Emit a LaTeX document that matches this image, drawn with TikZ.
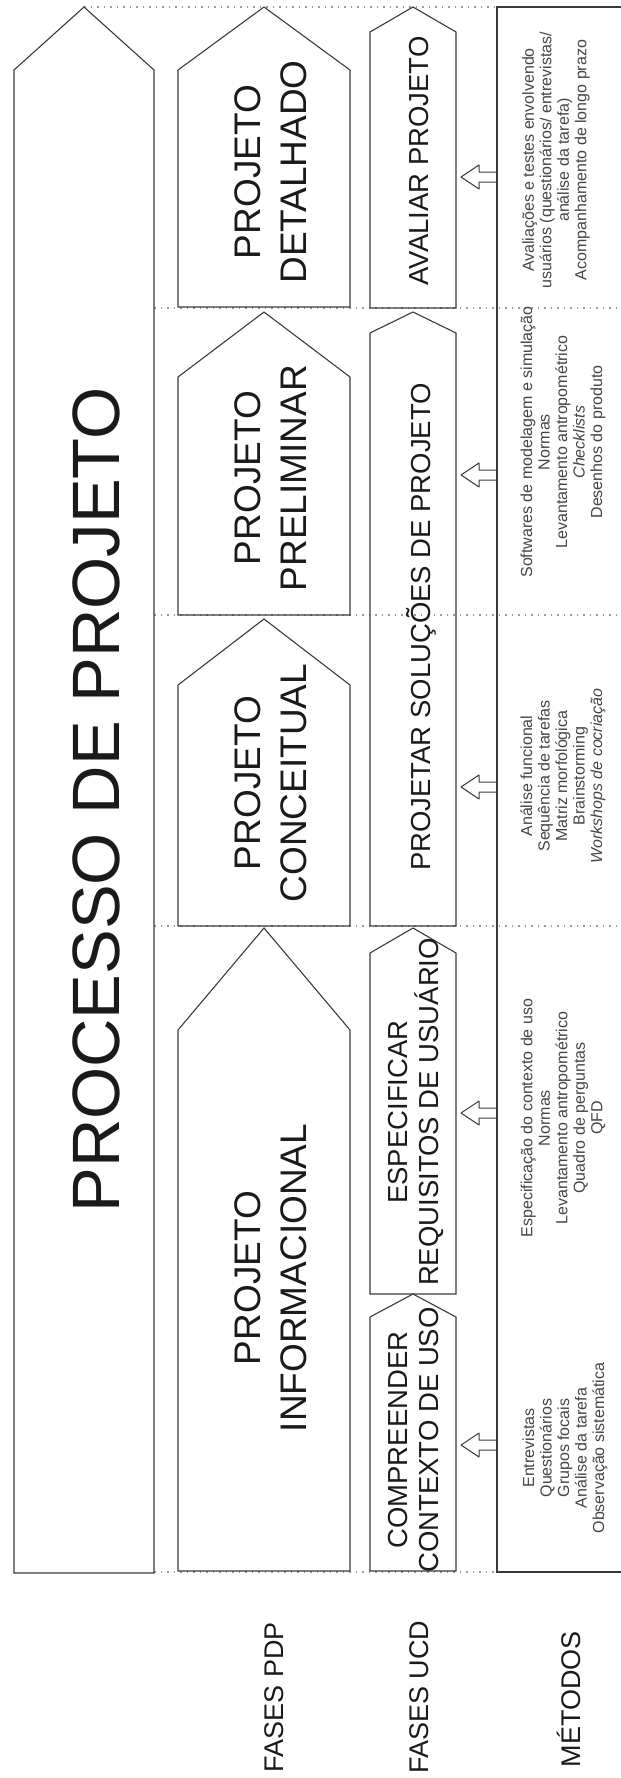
\documentclass[tikz,border=0pt]{standalone}
\usepackage{fontspec}
\setmainfont{Liberation Sans}
\usetikzlibrary{calc}
\definecolor{linec}{HTML}{3A3A3A}
\definecolor{dotc}{HTML}{9A9A9A}
\definecolor{textc}{HTML}{1A1A1A}
\definecolor{metc}{HTML}{444444}
\tikzset{
  boxl/.style={draw=linec,line width=1.1pt,line join=miter},
  sep/.style={dotc,line width=1.3pt,dash pattern=on 1.5pt off 5pt},
  bigtxt/.style={rotate=90,inner sep=0pt,textc,font=\fontsize{67}{80}\selectfont},
  pdptxt/.style={rotate=90,inner sep=0pt,align=center,textc,font=\fontsize{37}{46}\selectfont},
  ucdtxt/.style={rotate=90,inner sep=0pt,align=center,textc,font=\fontsize{27.5}{31}\selectfont},
  mettxt/.style={rotate=90,inner sep=0pt,align=center,metc,font=\fontsize{16}{17.5}\selectfont},
  labtxt/.style={rotate=90,inner sep=0pt,anchor=base,textc,font=\fontsize{27}{32}\selectfont},
  harrow/.style={draw=linec,line width=1pt,line join=round}
}
% pentagon box: left, right, tip, shoulder, bottom
\newcommand{\phasebox}[5]{%
  \draw[boxl] (#1,#5) -- (#1,#4) -- ({(#1+#2)/2},#3) -- (#2,#4) -- (#2,#5) -- cycle;}
% hollow arrow pointing left from a coordinate on the methods line
\newcommand{\inarrow}[1]{%
  \draw[harrow] (#1) ++(0,-5) -- ++(-18,0) -- ++(0,-7) -- ++(-18,12) -- ++(18,12) -- ++(0,-7) -- ++(18,0);}
\begin{document}
\begin{tikzpicture}[x=1pt,y=-1pt]
\useasboundingbox (0,0) rectangle (621,1778);
% separators
\draw[sep] (84,7) -- (497,7);
\foreach \y in {308,615,926} \draw[sep] (154,\y) -- (621,\y);
\draw[sep] (154,1572) -- (497,1572);
% outer process arrow
\phasebox{14}{154}{7}{70}{1573}
\node[bigtxt,anchor=base] (proc) at (119,800) {PROCESSO DE PROJETO};
% PDP phases
\phasebox{178}{350}{7}{70}{307}
\phasebox{178}{350}{312}{377}{615}
\phasebox{178}{350}{619}{685}{926}
\phasebox{178}{350}{928}{1030}{1571}
\node[pdptxt] (detalhado) at (271,172) {PROJETO\\DETALHADO};
\node[pdptxt] (preliminar) at (271,478) {PROJETO\\PRELIMINAR};
\node[pdptxt] (conceitual) at (271,783) {PROJETO\\CONCEITUAL};
\node[pdptxt] (informacional) at (271,1278) {PROJETO\\INFORMACIONAL};
% UCD phases
\phasebox{370}{456}{7}{32}{308}
\phasebox{370}{456}{312}{333}{926}
\phasebox{370}{456}{928}{953}{1294}
\phasebox{370}{456}{1294}{1317}{1571}
\node[ucdtxt,anchor=base] (avaliar) at (428,161) {AVALIAR PROJETO};
\node[ucdtxt,anchor=base] (projetar) at (430,627) {PROJETAR SOLUÇÕES DE PROJETO};
\node[ucdtxt] (especificar) at (416,1112) {ESPECIFICAR\\REQUISITOS DE USUÁRIO};
\node[ucdtxt] (compreender) at (414,1440) {COMPREENDER\\CONTEXTO DE USO};
% methods column
\draw[linec,line width=1.6pt] (621,7) -- (497,7) -- (497,1572) -- (621,1572);
\foreach \y [count=\i] in {177,475,787,1113,1445} {
  \coordinate (m\i) at (497,\y);
  \inarrow{m\i}
}
\node[mettxt] (met1) at (556,160) {Avaliações e testes envolvendo\\usuários (questionários/ entrevistas/\\análise da tarefa)\\Acompanhamento de longo prazo};
\node[mettxt] (met2) at (563,442) {Softwares de modelagem e simulação\\Normas\\Levantamento antropométrico\\\textit{Checklists}\\Desenhos do produto};
\node[mettxt] (met3) at (563,776) {Análise funcional\\Sequência de tarefas\\Matriz morfológica\\Brainstorming\\\textit{Workshops de cocriação}};
\node[mettxt] (met4) at (563,1118) {Especificação do contexto de uso\\Normas\\Levantamento antropométrico\\Quadro de perguntas\\QFD};
\node[mettxt] (met5) at (565,1448) {Entrevistas\\Questionários\\Grupos focais\\Análise da tarefa\\Observação sistemática};
% row labels
\node[labtxt] (lpdp) at (283,1697) {FASES PDP};
\node[labtxt] (lucd) at (428,1697) {FASES UCD};
\node[labtxt] (lmet) at (580,1699) {MÉTODOS};
\end{tikzpicture}
\end{document}
